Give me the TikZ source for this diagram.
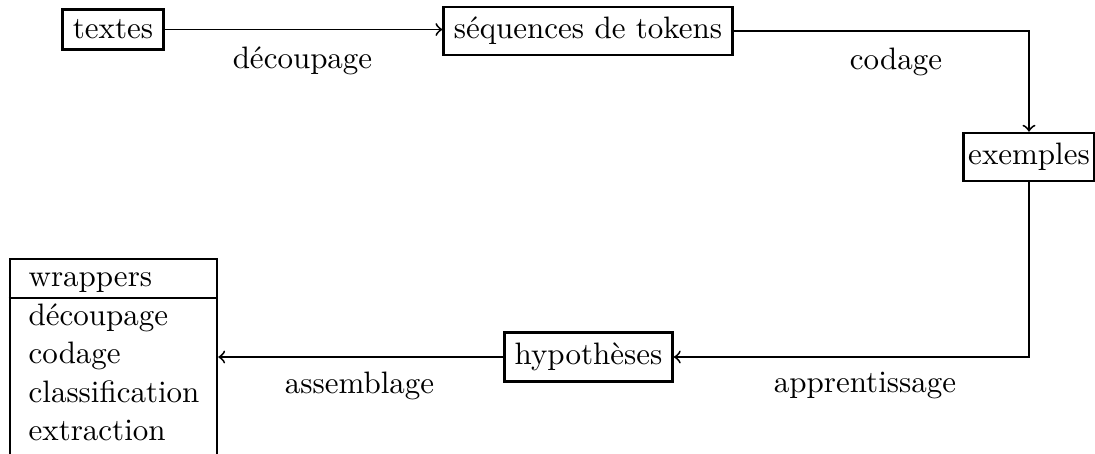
\documentclass[tikz,border=0pt]{standalone}
\usepackage{fontspec}
\begin{document}
\begin{tikzpicture}[x=0.32258pt,y=-0.32258pt,
  box/.style={draw,line width=0.8pt,inner sep=3.33pt},
  conn/.style={->,line width=0.6pt},
  lbl/.style={anchor=base,inner sep=0pt},
  item/.style={anchor=base west,inner sep=0pt}]
\useasboundingbox (0,0) rectangle (1095,453);
% main nodes
\node[box] (textes) at (113,29.5) {textes};
\node[box] (seq) at (588,31) {séquences de tokens};
\node[box,inner xsep=1.5pt] (ex) at (1029,157) {exemples};
\node[box] (hyp) at (588.5,357) {hypothèses};
\node[draw,line width=0.8pt,inner sep=0pt,minimum width=66.8pt,minimum height=63.6pt] (wrap) at (113.5,357.5) {};
% wrappers contents
\node[item] (w1) at (28,286.5) {wrappers};
\coordinate (div) at (0,298);
\draw[line width=0.5pt] (wrap.west |- div) -- (wrap.east |- div);
\node[item] (w2) at (28,325) {découpage};
\node[item] (w3) at (28,363.5) {codage};
\node[item] (w4) at (28,402) {classification};
\node[item] (w5) at (28,440.5) {extraction};
% connectors
\draw[conn] (textes.east) -- (textes.east -| seq.west);
\draw[conn] (seq.east) -| (ex.north);
\draw[conn] (ex.south) |- (hyp.east);
\draw[conn] (hyp.west) -- (hyp.west -| wrap.east);
% labels
\node[lbl] (l1) at (302.5,68) {découpage};
\node[lbl] (l2) at (896,69) {codage};
\node[lbl] (l3) at (865,392) {apprentissage};
\node[lbl] (l4) at (359.5,393) {assemblage};
\end{tikzpicture}
\end{document}
